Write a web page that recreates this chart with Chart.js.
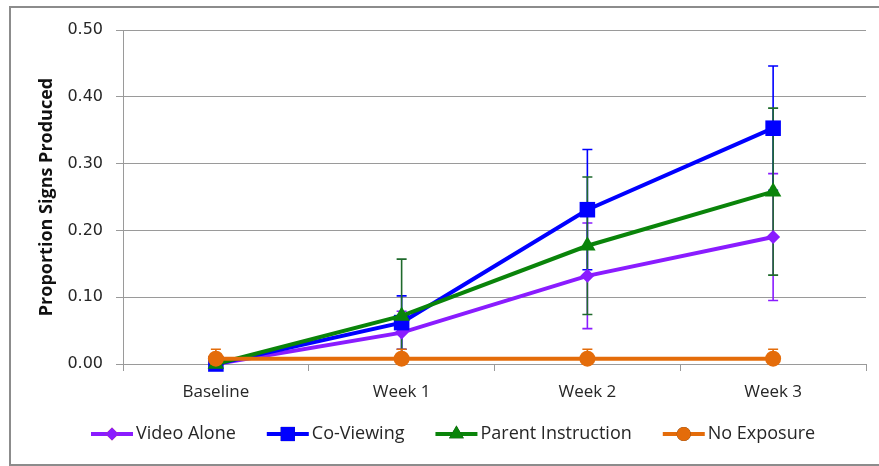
<!DOCTYPE html>
<html>
<head>
<meta charset="utf-8">
<script src="https://cdn.jsdelivr.net/npm/chart.js@4/dist/chart.umd.min.js"></script>
<style>
  html, body { margin: 0; padding: 0; background: #fff; }
  #wrap { position: relative; width: 879px; height: 466px; }
</style>
</head>
<body>
<div id="wrap"><canvas id="c" width="879" height="466"></canvas></div>
<script>
// Proportion of signs produced per condition (mean and standard error)
const categories = ['Baseline', 'Week 1', 'Week 2', 'Week 3'];
const videoAlone = [0, 0.047, 0.132, 0.190];
const videoAloneErr = [0, 0.032, 0.079, 0.095];
const coViewing = [0, 0.062, 0.231, 0.353];
const coViewingErr = [0, 0.040, 0.090, 0.093];
const parentInstruction = [0, 0.072, 0.177, 0.258];
const parentInstructionErr = [0, 0.085, 0.103, 0.125];
const noExposure = [0.008, 0.008, 0.008, 0.008];
const noExposureErr = [0.014, 0.014, 0.014, 0.014];
const yTicks = [0, 0.1, 0.2, 0.3, 0.4, 0.5];

const PURPLE = '#8a1cff';
const BLUE = '#0000ff';
const GREEN = '#0a840a';
const ORANGE = '#e46c0a';
const GRID = '#9a9a9a';

function series(label, data, err, color, errColor, style, radius, order) {
  return {
    label, data, err, errColor, order,
    borderColor: color,
    backgroundColor: color,
    borderWidth: 4,
    pointStyle: style,
    pointRadius: radius,
    pointHoverRadius: radius,
    pointBorderWidth: 0,
    pointBackgroundColor: color,
    tension: 0,
    clip: false
  };
}

const datasets = [
  series('Video Alone', videoAlone, videoAloneErr, PURPLE, PURPLE, 'rectRot', 7, 4),
  series('Co-Viewing', coViewing, coViewingErr, BLUE, BLUE, 'rect', 11, 3),
  series('Parent Instruction', parentInstruction, parentInstructionErr, GREEN, '#1f6a2c', 'triangle', 9.5, 2),
  series('No Exposure', noExposure, noExposureErr, ORANGE, ORANGE, 'circle', 8, 1)
];

// Vertical error bars with caps, drawn beneath the series lines
const errorBars = {
  id: 'errorBars',
  beforeDatasetsDraw(chart) {
    const ctx = chart.ctx;
    const y = chart.scales.y;
    ctx.save();
    chart.data.datasets.forEach((ds, di) => {
      const meta = chart.getDatasetMeta(di);
      ctx.strokeStyle = ds.errColor;
      ctx.lineWidth = 1.6;
      ds.data.forEach((v, i) => {
        const e = ds.err[i];
        if (!e) return;
        const x = meta.data[i].x;
        const top = y.getPixelForValue(v + e);
        const lowVal = v - e;
        const bot = y.getPixelForValue(Math.max(lowVal, 0));
        ctx.beginPath();
        ctx.moveTo(x, top);
        ctx.lineTo(x, bot);
        ctx.moveTo(x - 5, top);
        ctx.lineTo(x + 5, top);
        if (lowVal >= 0) {
          ctx.moveTo(x - 5, bot);
          ctx.lineTo(x + 5, bot);
        }
        ctx.stroke();
      });
    });
    ctx.restore();
  }
};

// Outer frame and the legend row along the bottom
const frameAndLegend = {
  id: 'frameAndLegend',
  afterDraw(chart) {
    const ctx = chart.ctx;
    ctx.save();
    ctx.strokeStyle = '#8c8c8c';
    ctx.lineWidth = 2;
    ctx.strokeRect(10, 7, 880, 458);

    const yMid = 434;
    let x = 91;
    ctx.font = '18px "Open Sans"';
    ctx.textBaseline = 'middle';
    ctx.textAlign = 'left';
    chart.data.datasets.forEach(ds => {
      ctx.strokeStyle = ds.borderColor;
      ctx.lineWidth = 4;
      ctx.beginPath();
      ctx.moveTo(x, yMid);
      ctx.lineTo(x + 42, yMid);
      ctx.stroke();
      Chart.helpers.drawPoint(ctx, {
        pointStyle: ds.pointStyle,
        radius: ds.pointStyle === 'rectRot' ? 6.5 : (ds.pointStyle === 'rect' ? 10 : (ds.pointStyle === 'triangle' ? 8.5 : 7)),
        borderWidth: 0
      }, x + 21, yMid);
      ctx.fillStyle = ds.borderColor;
      ctx.fill();
      ctx.fillStyle = '#262626';
      ctx.fillText(ds.label, x + 45, yMid);
      x += 45 + ctx.measureText(ds.label).width + 31;
    });
    ctx.restore();
  }
};

new Chart(document.getElementById('c'), {
  type: 'line',
  data: { labels: categories, datasets },
  plugins: [errorBars, frameAndLegend],
  options: {
    responsive: false,
    animation: false,
    events: [],
    layout: { padding: { left: 10, right: 13, top: 30, bottom: 0 } },
    plugins: { legend: { display: false }, tooltip: { enabled: false } },
    scales: {
      x: {
        type: 'category',
        offset: true,
        afterFit(scale) { scale.height = 102; },
        grid: {
          offset: true,
          drawOnChartArea: false,
          drawTicks: true,
          tickLength: 7,
          color: GRID,
          lineWidth: 1
        },
        border: { display: true, color: GRID, width: 1 },
        ticks: {
          padding: 11,
          color: '#262626',
          font: { family: '"Open Sans"', size: 17 },
          maxRotation: 0
        }
      },
      y: {
        min: 0,
        max: 0.5,
        afterFit(scale) { scale.width = 113; },
        afterBuildTicks(scale) { scale.ticks = yTicks.map(v => ({ value: v })); },
        grid: {
          drawTicks: true,
          tickLength: 7,
          color: GRID,
          lineWidth: 1
        },
        border: { display: true, color: GRID, width: 1 },
        ticks: {
          padding: 13,
          color: '#262626',
          font: { family: '"DejaVu Sans"', size: 16 },
          callback: v => Number(v).toFixed(2)
        },
        title: {
          display: true,
          text: 'Proportion Signs Produced',
          color: '#111',
          padding: { top: 26, bottom: 0 },
          font: { family: '"Open Sans"', size: 18, weight: 'bold' }
        }
      }
    }
  }
});
</script>
</body>
</html>
